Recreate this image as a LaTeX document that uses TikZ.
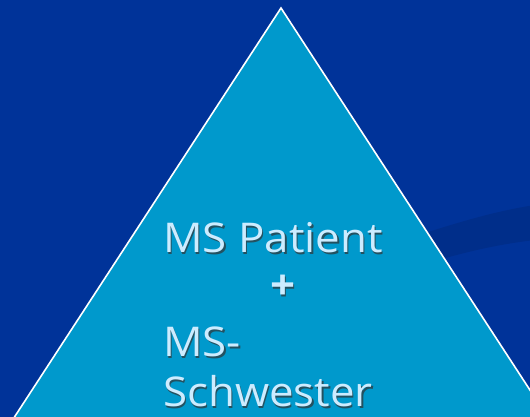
\documentclass[tikz,border=0pt]{standalone}
\usepackage{fontspec}
\setmainfont{Open Sans}[FakeStretch=1.07]
\definecolor{bgblue}{RGB}{0,51,153}
\definecolor{swoosh}{RGB}{0,46,138}
\definecolor{trifill}{RGB}{0,153,204}
\definecolor{txtcol}{RGB}{204,236,255}
\tikzset{
  lbl/.style={anchor=base west, inner sep=0pt, text=txtcol, font=\fontsize{41}{48}\selectfont},
  lblshadow/.style={anchor=base west, inner sep=0pt, text=black!80, opacity=0.7, font=\fontsize{41}{48}\selectfont},
}
\begin{document}
\begin{tikzpicture}[x=1pt,y=1pt]
\useasboundingbox (0,0) rectangle (530,417);
\begin{scope}
\clip (0,0) rectangle (530,417);
\fill[bgblue] (0,0) rectangle (530,417);
\fill[swoosh] (400,417-241) .. controls (450,417-225) and (490,417-212) .. (535,417-205)
  -- (535,417-240) .. controls (500,417-244) and (460,417-252) .. (400,417-272) -- cycle;
\fill[trifill, draw=white, line width=1.6pt, line join=miter] (281,409) -- (556,-13) -- (6,-13) -- cycle;
\end{scope}
\node[lblshadow] at (164.5,162.5) {MS Patient};
\node[lbl] (t1) at (163,164) {MS Patient};
\node[lblshadow, anchor=base] at (284.5,115.5) {\textbf{+}};
\node[lbl, anchor=base] (t2) at (283,117) {\textbf{+}};
\node[lblshadow] at (164.5,58.5) {MS-};
\node[lbl] (t3) at (163,60) {MS-};
\node[lblshadow] at (164.5,8.5) {Schwester};
\node[lbl] (t4) at (163,10) {Schwester};
\end{tikzpicture}
\end{document}
